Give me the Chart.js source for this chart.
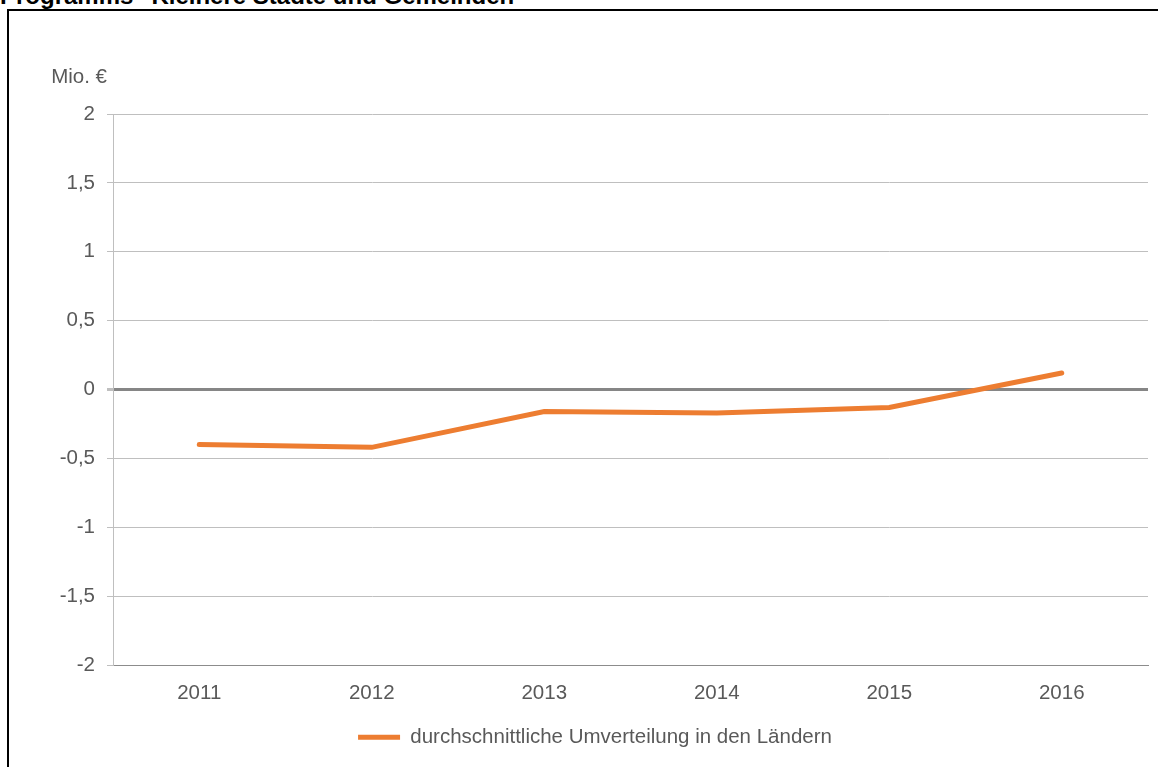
<!DOCTYPE html>
<html>
<head>
<meta charset="utf-8">
<script src="https://cdn.jsdelivr.net/npm/chart.js@4/dist/chart.umd.min.js"></script>
<style>
  body { margin: 0; background: #fff; overflow: hidden; }
  #title { position: absolute; left: 0; top: -16px; font: bold 24px "Liberation Sans", Arial, sans-serif; line-height: 24px; color: #000; white-space: nowrap; }
  #frame { position: absolute; left: 7px; top: 9px; width: 1200px; height: 800px; border-left: 2px solid #000; border-top: 2px solid #000; }
  #wrap { position: absolute; left: 0; top: 0; width: 1158px; height: 767px; }
</style>
</head>
<body>
<div id="title">Programms "Kleinere Städte und Gemeinden"</div>
<div id="frame"></div>
<div id="wrap"><canvas id="c"></canvas></div>
<script>
const years = ['2011', '2012', '2013', '2014', '2015', '2016']
const umverteilung = [-0.40, -0.42, -0.16, -0.17, -0.13, 0.12]
const seriesName = 'durchschnittliche Umverteilung in den Ländern'
const unitLabel = 'Mio. €'

const font = { family: '"Liberation Sans", Arial, sans-serif', size: 20.5 }
const textColor = '#595959'

// "Mio. €" above the y axis
const unitPlugin = {
  id: 'unit',
  afterDraw(chart) {
    const ctx = chart.ctx
    const area = chart.chartArea
    ctx.save()
    ctx.font = font.size + 'px ' + font.family
    ctx.fillStyle = textColor
    ctx.textAlign = 'right'
    ctx.textBaseline = 'middle'
    ctx.fillText(unitLabel, area.left - 6, area.top - 37)
    ctx.restore()
  }
}

new Chart(document.getElementById('c'), {
  type: 'line',
  data: {
    labels: years,
    datasets: [{
      label: seriesName,
      data: umverteilung,
      borderColor: '#ED7D31',
      backgroundColor: '#ED7D31',
      borderWidth: 5,
      borderCapStyle: 'round',
      pointRadius: 0,
      pointHoverRadius: 0,
      tension: 0
    }]
  },
  options: {
    responsive: true,
    maintainAspectRatio: false,
    animation: false,
    layout: { padding: { left: 42, right: 10, top: 114, bottom: 9.5 } },
    plugins: {
      legend: {
        position: 'bottom',
        labels: {
          usePointStyle: true,
          pointStyle: 'line',
          pointStyleWidth: 42,
          color: textColor,
          font: font,
          padding: 10
        }
      },
      tooltip: { enabled: false }
    },
    scales: {
      x: {
        offset: true,
        grid: { display: false, drawTicks: false },
        border: { color: '#8c8c8c', width: 1 },
        ticks: { color: textColor, font: font, padding: 16, maxRotation: 0 },
        afterFit(scale) { scale.height = 52 }
      },
      y: {
        min: -2,
        max: 2,
        border: { color: '#bfbfbf', width: 1 },
        grid: {
          color: c => c.tick.value === 0 ? '#868686' : (c.tick.value === -2 ? '#8c8c8c' : '#bfbfbf'),
          lineWidth: c => c.tick.value === 0 ? 3 : 1,
          tickColor: '#bfbfbf',
          tickLength: 6
        },
        ticks: {
          stepSize: 0.5,
          color: textColor,
          font: font,
          padding: 12,
          callback: v => String(v).replace('.', ',')
        },
        afterFit(scale) { scale.width = 71 }
      }
    }
  },
  plugins: [unitPlugin]
})
</script>
</body>
</html>
